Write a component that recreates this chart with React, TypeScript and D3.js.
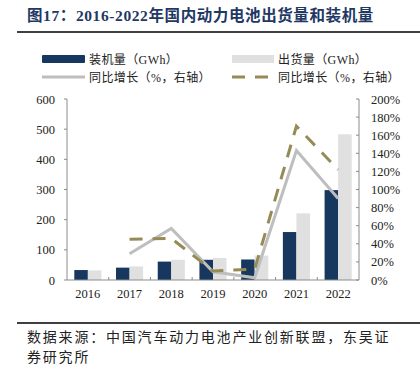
import React from "react";
import * as d3 from "d3";

const years = ["2016", "2017", "2018", "2019", "2020", "2021", "2022"];
const installed = [33, 41, 61, 67, 68, 159, 298];
const shipped = [32, 45, 67, 73, 81, 221, 483];
const installedGrowth = [null, 29, 57, 9, 2.5, 143, 90];
const shippedGrowth = [null, 45, 46, 10, 12, 170, 122];
const leftTicks = [0, 100, 200, 300, 400, 500, 600];
const rightTicks = [0, 20, 40, 60, 80, 100, 120, 140, 160, 180, 200];

const W = 420, H = 365;
const L = 67, R = 359, T = 99, B = 280;
const NAVY = "#17375E", LIGHT = "#E0E0E0", GREYLINE = "#BEBEBE", OLIVE = "#958B57";
const AXIS = "#8C8C8C";
const NUMFONT = "'Liberation Serif', 'Times New Roman', serif";
const CJK = "'Liberation Serif', 'Noto Sans CJK SC', serif";

export default function App() {
  const x = d3.scaleBand<string>().domain(years).range([L, R]).paddingInner(0.35).paddingOuter(0.175);
  const x1 = d3.scaleBand<string>().domain(["a", "b"]).range([0, x.bandwidth()]);
  const step = x.step();
  const center = (y: string) => (x(y) as number) + x.bandwidth() / 2;
  const yL = d3.scaleLinear().domain([0, 600]).range([B, T]);
  const yR = d3.scaleLinear().domain([0, 200]).range([B, T]);

  const line = d3
    .line<any>()
    .defined((d) => d.v != null)
    .x((d) => center(d.y))
    .y((d) => yR(d.v));
  const g1 = years.map((y, i) => ({ y, v: installedGrowth[i] }));
  const g2 = years.map((y, i) => ({ y, v: shippedGrowth[i] }));

  return (
    <svg width={W} height={H} style={{ position: "absolute", left: 0, top: 0, background: "#fff" }}>
      <text x={27} y={21} fontFamily={CJK} fontWeight="bold" fontSize={15.5} letterSpacing={0.6} fill="#1F3864">
        图17：2016-2022年国内动力电池出货量和装机量
      </text>
      <line x1={17} x2={420} y1={32} y2={32} stroke="#000" strokeWidth={1.6} />

      {/* legend */}
      <rect x={42} y={55} width={43} height={8} fill={NAVY} rx={1} />
      <text x={89} y={63.5} fontFamily={CJK} fontSize={12} letterSpacing={0.4} fill="#222">装机量（GWh）</text>
      <rect x={232} y={55} width={42} height={8} fill={LIGHT} />
      <text x={278} y={63.5} fontFamily={CJK} fontSize={12} letterSpacing={0.4} fill="#222">出货量（GWh）</text>
      <line x1={42} x2={85} y1={77} y2={77} stroke={GREYLINE} strokeWidth={3} />
      <text x={89} y={81.5} fontFamily={CJK} fontSize={12} letterSpacing={0.4} fill="#222">同比增长（%，右轴）</text>
      <line x1={232} x2={268} y1={77} y2={77} stroke={OLIVE} strokeWidth={3} strokeDasharray="13,10" />
      <text x={278} y={81.5} fontFamily={CJK} fontSize={12} letterSpacing={0.4} fill="#222">同比增长（%，右轴）</text>

      {/* bars */}
      {years.map((y, i) => (
        <g key={y}>
          <rect x={(x(y) as number) + (x1("a") as number)} y={yL(installed[i])} width={x1.bandwidth()} height={B - yL(installed[i])} fill={NAVY} />
          <rect x={(x(y) as number) + (x1("b") as number)} y={yL(shipped[i])} width={x1.bandwidth()} height={B - yL(shipped[i])} fill={LIGHT} />
        </g>
      ))}

      {/* axes */}
      <line x1={L} x2={L} y1={T} y2={B} stroke={AXIS} strokeWidth={1} />
      <line x1={R} x2={R} y1={T} y2={B} stroke={AXIS} strokeWidth={1} />
      <line x1={L} x2={R} y1={B} y2={B} stroke={AXIS} strokeWidth={1} />
      {leftTicks.map((t) => (
        <g key={t}>
          <line x1={L - 3} x2={L} y1={yL(t)} y2={yL(t)} stroke={AXIS} />
          <text x={55} y={yL(t) + 4.5} textAnchor="end" fontFamily={NUMFONT} fontSize={12.5} fill="#222">{t}</text>
        </g>
      ))}
      {rightTicks.map((t) => (
        <g key={t}>
          <line x1={R - 3} x2={R} y1={yR(t)} y2={yR(t)} stroke={AXIS} />
          <text x={371} y={yR(t) + 4.5} fontFamily={NUMFONT} fontSize={12.5} fill="#222">{t}%</text>
        </g>
      ))}
      {years.map((y, i) =>
        i > 0 ? (
          <line key={"t" + y} x1={L + i * step} x2={L + i * step} y1={B} y2={B - 3} stroke={AXIS} />
        ) : null
      )}
      {years.map((y) => (
        <text key={"l" + y} x={center(y)} y={298} textAnchor="middle" fontFamily={NUMFONT} fontSize={12.5} fill="#222">{y}</text>
      ))}

      {/* lines */}
      <path d={line(g1) as string} fill="none" stroke={GREYLINE} strokeWidth={3} />
      <path d={line(g2) as string} fill="none" stroke={OLIVE} strokeWidth={3} strokeDasharray="13,10" />

      <line x1={17} x2={420} y1={323} y2={323} stroke="#000" strokeWidth={1.6} />
      <text x={27} y={342} fontFamily={CJK} fontSize={14} letterSpacing={1.8} fill="#222">数据来源：中国汽车动力电池产业创新联盟，东吴证</text>
      <text x={27} y={362} fontFamily={CJK} fontSize={14} letterSpacing={1.8} fill="#222">券研究所</text>
    </svg>
  );
}
